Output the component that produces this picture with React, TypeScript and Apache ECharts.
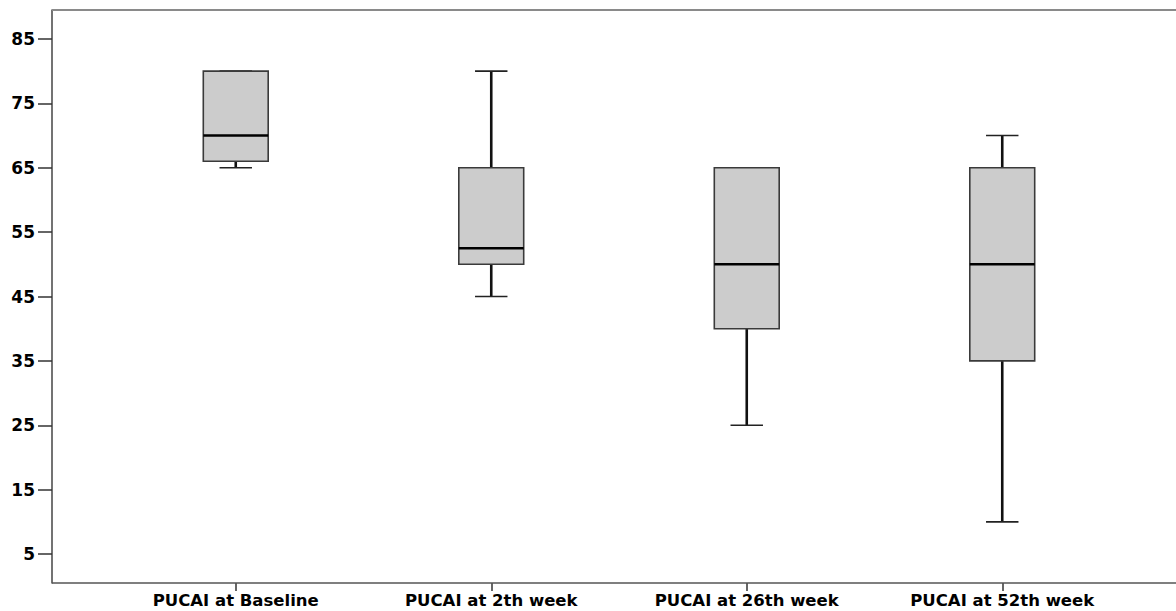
import React, { useEffect, useRef } from "react";
import * as echarts from "echarts";

const categories = [
  "PUCAI at Baseline",
  "PUCAI at 2th week",
  "PUCAI at 26th week",
  "PUCAI at 52th week",
];
const minValues = [65, 45, 25, 10];
const q1Values = [66, 50, 40, 35];
const medianValues = [70, 52.5, 50, 50];
const q3Values = [80, 65, 65, 65];
const maxValues = [80, 80, 65, 70];
const yTicks = [5, 15, 25, 35, 45, 55, 65, 75, 85];

export default function App() {
  const ref = useRef<HTMLDivElement>(null);
  useEffect(() => {
    if (!ref.current) return;
    const chart = echarts.init(ref.current, undefined, { renderer: "svg" });
    const data = categories.map((_, i) => [
      i,
      minValues[i],
      q1Values[i],
      medianValues[i],
      q3Values[i],
      maxValues[i],
    ]);
    const font = "'DejaVu Sans', sans-serif";
    chart.setOption({
      animation: false,
      backgroundColor: "#ffffff",
      graphic: [
        {
          type: "line",
          z: 10,
          shape: { x1: 52, y1: 10, x2: 1200, y2: 10 },
          style: { stroke: "#8a8a8a", lineWidth: 1.8 },
        },
        {
          type: "line",
          z: 10,
          shape: { x1: 52, y1: 583, x2: 1200, y2: 583 },
          style: { stroke: "#555555", lineWidth: 1.5 },
        },
      ],
      grid: [
        { left: 108, top: 10, bottom: 28, width: 1022, containLabel: false, outerBoundsMode: "none" },
      ],
      xAxis: [
        {
          type: "category",
          data: categories,
          boundaryGap: true,
          axisLine: { show: false },
          axisTick: {
            show: true,
            alignWithLabel: true,
            length: 8,
            lineStyle: { color: "#333333", width: 1.5 },
          },
          axisLabel: {
            interval: 0,
            margin: 9,
            lineHeight: 17,
            color: "#000000",
            fontFamily: font,
            fontWeight: "bold",
            fontSize: 16.5,
          },
          splitLine: { show: false },
        },
      ],
      yAxis: [
        {
          type: "value",
          min: 0.5,
          max: 89.5,
          offset: 56,
          axisLine: { show: true, lineStyle: { color: "#444444", width: 1.5 } },
          axisTick: {
            show: true,
            length: 14,
            customValues: yTicks,
            lineStyle: { color: "#333333", width: 1.5 },
          },
          axisLabel: {
            show: true,
            customValues: yTicks,
            margin: 17,
            color: "#000000",
            fontFamily: font,
            fontWeight: "bold",
            fontSize: 17,
          },
          splitLine: { show: false },
        },
      ],
      series: [
        {
          type: "custom",
          encode: { x: 0, y: [1, 2, 3, 4, 5] },
          data,
          renderItem: (params: any, api: any) => {
            const idx = api.value(0);
            const pMin = api.coord([idx, api.value(1)]);
            const pQ1 = api.coord([idx, api.value(2)]);
            const pMed = api.coord([idx, api.value(3)]);
            const pQ3 = api.coord([idx, api.value(4)]);
            const pMax = api.coord([idx, api.value(5)]);
            const band = api.size([1, 0])[0];
            const bw = band * 0.254;
            const cap = bw / 2;
            const cx = pMed[0];
            const whisker = { stroke: "#111111", lineWidth: 2.6 };
            const capStyle = { stroke: "#222222", lineWidth: 1.6 };
            return {
              type: "group",
              children: [
                { type: "line", shape: { x1: cx, y1: pMax[1], x2: cx, y2: pQ3[1] }, style: whisker },
                { type: "line", shape: { x1: cx, y1: pQ1[1], x2: cx, y2: pMin[1] }, style: whisker },
                { type: "line", shape: { x1: cx - cap / 2, y1: pMax[1], x2: cx + cap / 2, y2: pMax[1] }, style: capStyle },
                { type: "line", shape: { x1: cx - cap / 2, y1: pMin[1], x2: cx + cap / 2, y2: pMin[1] }, style: capStyle },
                {
                  type: "rect",
                  shape: { x: cx - bw / 2, y: pQ3[1], width: bw, height: pQ1[1] - pQ3[1] },
                  style: { fill: "#cccccc", stroke: "#3a3a3a", lineWidth: 1.6 },
                },
                { type: "line", shape: { x1: cx - bw / 2, y1: pMed[1], x2: cx + bw / 2, y2: pMed[1] }, style: { stroke: "#000000", lineWidth: 2.6 } },
              ],
            };
          },
        },
      ],
    });
    return () => chart.dispose();
  }, []);
  return (
    <div
      ref={ref}
      style={{ position: "fixed", left: 0, top: 0, width: 1200, height: 611, background: "#fff" }}
    />
  );
}
